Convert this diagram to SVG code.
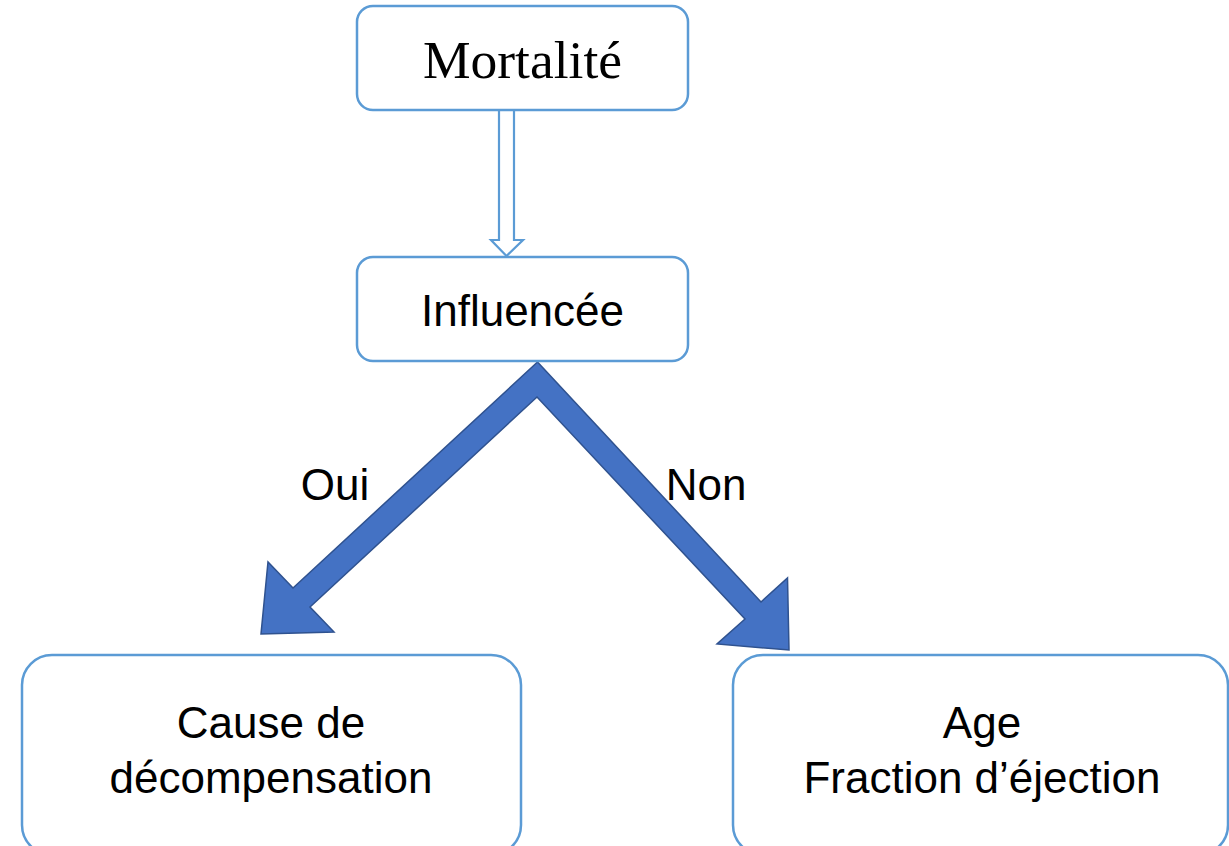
<svg xmlns="http://www.w3.org/2000/svg" width="1229" height="846" viewBox="0 0 1229 846">
<style>
.box{fill:#fff;stroke:#5B9BD5;stroke-width:2.5}
.t{font-family:"Liberation Sans",Arial,sans-serif;font-size:44px;fill:#000;text-anchor:middle}
.ts{font-family:"Liberation Serif","Times New Roman",serif;font-size:53.5px;fill:#000;text-anchor:middle}
.big{fill:#4472C4;stroke:#2F528F;stroke-width:1.5;stroke-linejoin:miter}
.hollow{fill:#fff;stroke:#5B9BD5;stroke-width:2.2}
</style>
<rect width="1229" height="846" fill="#fff"/>
<g id="connectors">
<polygon class="hollow" points="499,110 514,110 514,240 523,240 506.5,256 491,240 499,240"/>
<polygon class="big" points="537.5,362 761,602 787.5,578 789,650 717,644 745,619 537,397 310,607 334,632 261,634 268,562 293,588"/>
<text class="t" x="335" y="500">Oui</text>
<text class="t" x="706" y="500">Non</text>
</g>
<g id="node-mortalite">
<rect class="box" x="357" y="6" width="331" height="104" rx="16"/>
<text class="ts" x="522.5" y="78">Mortalité</text>
</g>
<g id="node-influencee">
<rect class="box" x="357" y="257" width="331" height="104" rx="16"/>
<text class="t" x="522.5" y="326">Influencée</text>
</g>
<g id="node-cause">
<rect class="box" x="22" y="655" width="499" height="200" rx="30"/>
<text class="t" x="271" y="738">Cause de</text>
<text class="t" x="271" y="793">décompensation</text>
</g>
<g id="node-age">
<rect class="box" x="733" y="655" width="495" height="200" rx="30"/>
<text class="t" x="982" y="738">Age</text>
<text class="t" x="982" y="793">Fraction d’éjection</text>
</g>
</svg>
